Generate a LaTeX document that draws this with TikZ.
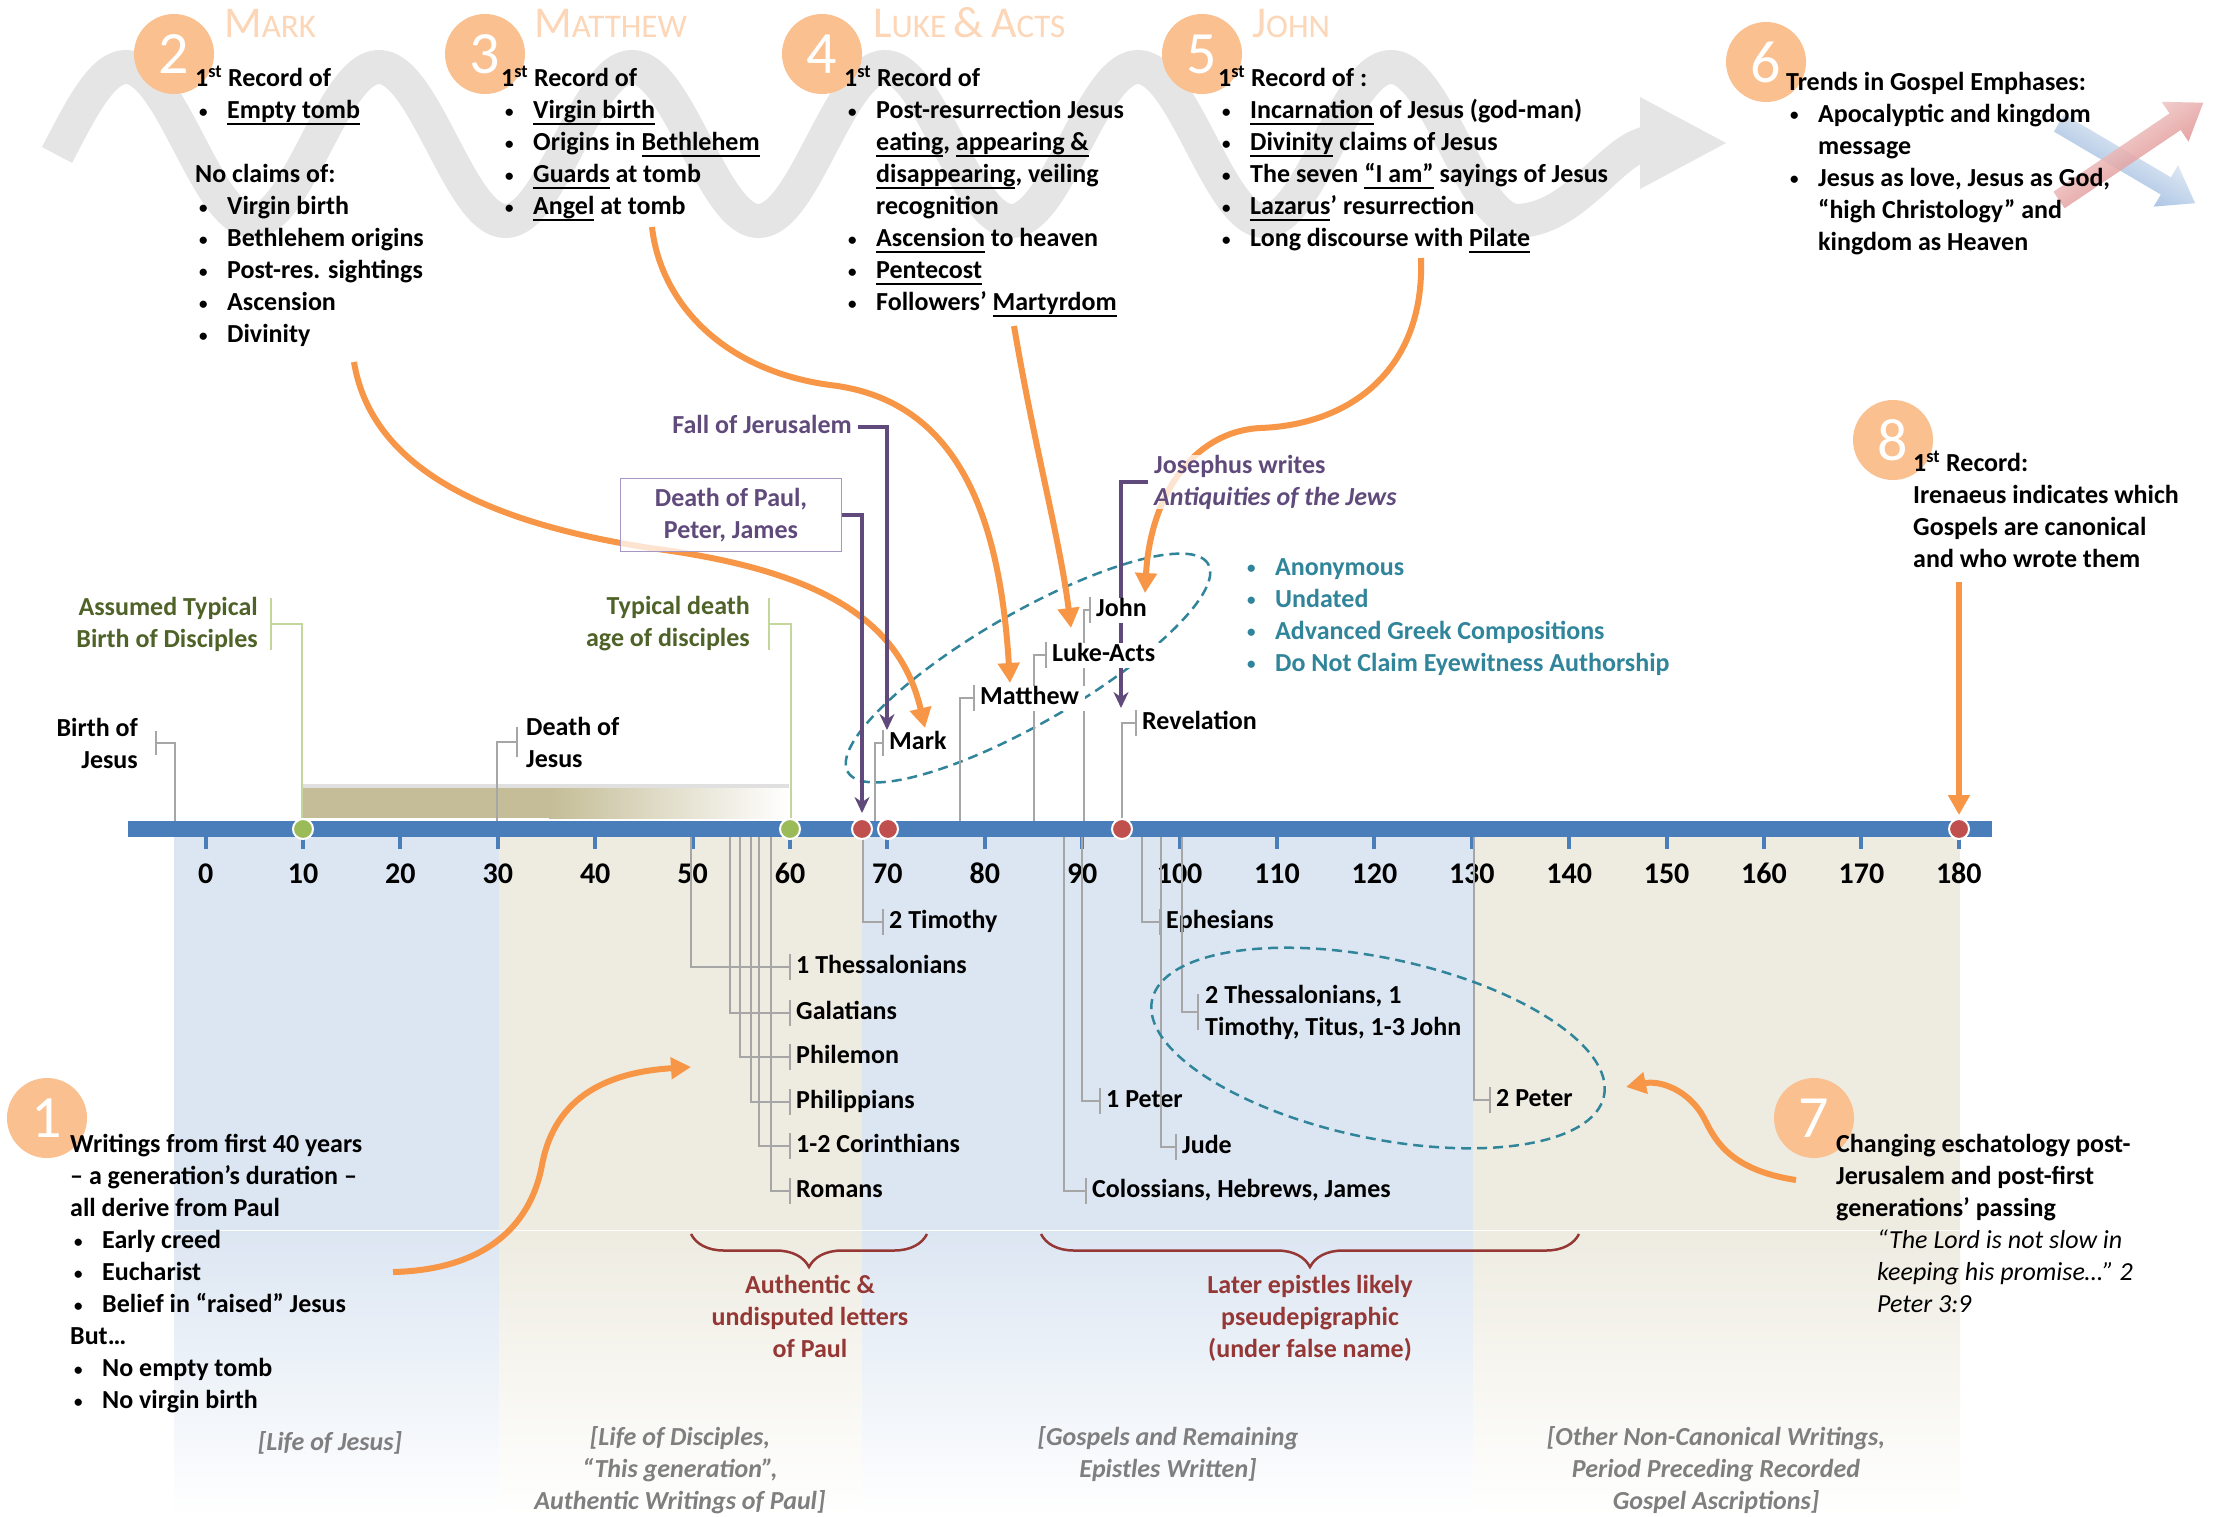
\documentclass[tikz,border=0pt]{standalone}
\usepackage{fontspec}
\setmainfont{Carlito}
\usetikzlibrary{arrows.meta, calc, decorations.pathreplacing}
\definecolor{barblue}{RGB}{74,126,187}
\definecolor{badgeorange}{RGB}{250,192,143}
\definecolor{titleorange}{RGB}{252,214,182}
\definecolor{wavegray}{RGB}{229,229,229}
\definecolor{arroworange}{RGB}{247,150,70}
\definecolor{purpletxt}{RGB}{96,74,123}
\definecolor{boxpurple}{RGB}{166,150,196}
\definecolor{tealtxt}{RGB}{49,133,155}
\definecolor{bracered}{RGB}{149,55,53}
\definecolor{olivetxt}{RGB}{79,98,40}
\definecolor{lightgreen}{RGB}{195,214,155}
\definecolor{greendot}{RGB}{155,187,89}
\definecolor{reddot}{RGB}{192,80,77}
\definecolor{leadgray}{RGB}{166,166,166}
\definecolor{bandblue}{RGB}{220,230,242}
\definecolor{bandbeige}{RGB}{238,236,225}
\definecolor{tanbar}{RGB}{196,189,151}
\definecolor{capgray}{RGB}{127,127,127}
\definecolor{trendred}{RGB}{214,110,108}
\definecolor{trendblue}{RGB}{130,168,214}
\newcommand\bodyf{\fontsize{26}{32}\selectfont\bfseries}
\newcommand\itm{\makebox[32pt][l]{\hspace{4pt}\raisebox{1.5pt}{\fontsize{17}{17}\selectfont\textbullet}}}
\newcommand\itmc{\hspace*{32pt}}
\newcommand\undl[1]{\setbox0\hbox{#1}\rlap{\rule[-6pt]{\wd0}{1.8pt}}\box0\relax}
\newcommand\bigsc[2]{{\fontsize{44}{44}\selectfont #1}{\fontsize{33}{33}\selectfont #2}}
\newcommand\topstrut{\rule{0pt}{24pt}}
\begin{document}
\begin{tikzpicture}[x=1pt, y=1pt,
        badge/.style={circle, fill=badgeorange, minimum size=80pt, inner sep=0pt, text=white, font=\fontsize{60}{60}\selectfont},
        gtitle/.style={anchor=base west, inner sep=0pt, text=titleorange},
        blk/.style={anchor=north west, yshift=19pt, align=left, inner sep=0pt, font=\bodyf, execute at begin node=\topstrut},
        evl/.style={font=\bodyf, inner xsep=6pt, inner ysep=0pt, text height=19pt, text depth=6pt},
        evl2/.style={font=\bodyf, inner xsep=8pt, inner ysep=0pt},
        lead/.style={draw=leadgray, line width=1.5pt},
        glead/.style={draw=lightgreen, line width=2.5pt},
        orarrow/.style={draw=arroworange, line width=6pt, -{Triangle[length=20pt, width=21pt]}},
        parrow/.style={draw=purpletxt, line width=3.5pt, -{Stealth[length=16pt, width=15pt]}},
        dashring/.style={draw=tealtxt, line width=2.5pt, dash pattern=on 10pt off 6pt},
        pbrace/.style={draw=bracered, line width=2.5pt, decorate, decoration={brace, mirror, amplitude=33pt}},
        bracetxt/.style={anchor=north, yshift=20pt, align=center, inner sep=0pt, font=\bodyf, text=bracered, execute at begin node=\topstrut},
        period/.style={anchor=north, yshift=24pt, align=center, inner sep=0pt, font=\bodyf\itshape, text=capgray, execute at begin node=\topstrut},
        axnum/.style={anchor=base, inner sep=0pt, font=\fontsize{30}{30}\selectfont\bfseries}
    ]
    \useasboundingbox (0,0) rectangle (2223,-1516);
    \fill[white] (0,0) rectangle (2223,-1516);

    % period bands under the axis
    \foreach \xa/\xb/\bc in {174/499/bandblue, 499/862/bandbeige, 862/1473/bandblue, 1473/1960/bandbeige}{
        \fill[\bc] (\xa,-837) rectangle (\xb,-1230);
        \shade[top color=\bc, bottom color=white] (\xa,-1231) rectangle (\xb,-1516);
    }

    % grey wave behind the gospel notes
    \draw[wavegray, line width=34pt] plot[domain=57:1516, samples=240, smooth] (\x,{-144+77*cos((\x-126)/253*360)});
    \draw[wavegray, line width=34pt] (1515,-221) .. controls (1575,-221) and (1610,-150) .. (1648,-143);
    \fill[wavegray] (1640,-97) -- (1726,-143) -- (1640,-189) -- cycle;

    % trend arrows
    \coordinate (bs) at (2059,-123);
    \shade[left color=white, right color=trendblue, shading angle=-30, opacity=0.9] ($(bs)+(59.5:10)$) -- ++(-30.5:124) -- ++(59.5:14) -- ($(bs)+(-30.5:158)$) -- ($(bs)+(-30.5:124)+(-120.5:24)$) -- ++(59.5:14) -- ($(bs)+(-120.5:10)$) -- cycle;
    \coordinate (rs) at (2059,-200);
    \shade[left color=trendred!15, right color=trendred, shading angle=34, opacity=0.85] ($(rs)+(124:10)$) -- ++(34:140) -- ++(124:14) -- ($(rs)+(34:174)$) -- ($(rs)+(34:140)+(-56:24)$) -- ++(124:14) -- ($(rs)+(-56:10)$) -- cycle;

    % numbered badges and titles
    \node[badge] (badge1) at (47,-1118) {1};
    \node[badge] (badge2) at (174,-54) {2};
    \node[badge] (badge3) at (485,-54) {3};
    \node[badge] (badge4) at (822,-54) {4};
    \node[badge] (badge5) at (1202,-54) {5};
    \node[badge] (badge6) at (1766,-62) {6};
    \node[badge] (badge7) at (1814,-1118) {7};
    \node[badge] (badge8) at (1893,-440) {8};
    \node[gtitle] (tmark) at (224,-37) {\bigsc{M}{ARK}};
    \node[gtitle] (tmatt) at (534,-37) {\bigsc{M}{ATTHEW}};
    \node[gtitle] (tluke) at (873,-37) {\bigsc{L}{UKE }\bigsc{\&}{ }\bigsc{A}{CTS}};
    \node[gtitle] (tjohn) at (1252,-37) {\bigsc{J}{OHN}};

    \node[blk] (mark) at (195,-85) {1\textsuperscript{st} Record of\\
        \itm \undl{Empty tomb}\\[32pt]
        No claims of:\\
        \itm Virgin birth\\
        \itm Bethlehem origins\\
        \itm Post-res. sightings\\
        \itm Ascension\\
        \itm Divinity};
    \node[blk] (matt) at (501,-85) {1\textsuperscript{st} Record of\\
        \itm \undl{Virgin birth}\\
        \itm Origins in \undl{Bethlehem}\\
        \itm \undl{Guards} at tomb\\
        \itm \undl{Angel} at tomb};
    \node[blk] (luke) at (844,-85) {1\textsuperscript{st} Record of\\
        \itm Post-resurrection Jesus\\
        \itmc \undl{eating}, \undl{appearing \&}\\
        \itmc \undl{disappearing}, veiling\\
        \itmc recognition\\
        \itm \undl{Ascension} to heaven\\
        \itm \undl{Pentecost}\\
        \itm Followers’ \undl{Martyrdom}};
    \node[blk] (john) at (1218,-85) {1\textsuperscript{st} Record of :\\
        \itm \undl{Incarnation} of Jesus (god-man)\\
        \itm \undl{Divinity} claims of Jesus\\
        \itm The seven \undl{“I am”} sayings of Jesus\\
        \itm \undl{Lazarus}’ resurrection\\
        \itm Long discourse with \undl{Pilate}};
    \node[blk] (trend) at (1786,-91) {Trends in Gospel Emphases:\\
        \itm Apocalyptic and kingdom\\
        \itmc message\\
        \itm Jesus as love, Jesus as God,\\
        \itmc “high Christology” and\\
        \itmc kingdom as Heaven};
    \node[blk] (iren) at (1913,-470) {1\textsuperscript{st} Record:\\Irenaeus indicates which\\Gospels are canonical\\and who wrote them};
    \node[blk] (early) at (70,-1153) {Writings from first 40 years\\
        – a generation’s duration –\\
        all derive from Paul\\
        \itm Early creed\\
        \itm Eucharist\\
        \itm Belief in “raised” Jesus\\
        But…\\
        \itm No empty tomb\\
        \itm No virgin birth};
    \node[blk] (escha) at (1836,-1153) {Changing eschatology post-\\
        Jerusalem and post-first\\
        generations’ passing\\
        \hspace*{41pt}{\mdseries\itshape “The Lord is not slow in}\\
        \hspace*{41pt}{\mdseries\itshape keeping his promise…” 2}\\
        \hspace*{41pt}{\mdseries\itshape Peter 3:9}};
    \node[blk, text=tealtxt] (traits) at (1243,-577) {\itm Anonymous\\
        \itm Undated\\
        \itm Advanced Greek Compositions\\
        \itm Do Not Claim Eyewitness Authorship};

    % disciples span above the axis
    \fill[black!12] (303,-784) rectangle (789,-788);
    \fill[tanbar] (303,-788) rectangle (549,-818);
    \shade[left color=tanbar, right color=white] (549,-788) rectangle (789,-818);

    % axis
    \fill[barblue] (128,-821) rectangle (1992,-837);
    \foreach \yr in {0,10,...,180}{
        \pgfmathsetmacro\tx{205.6+9.74*\yr}
        \fill[barblue] (\tx-2,-837) rectangle (\tx+2,-849);
        \node[axnum] (yr\yr) at (\tx,-883) {\yr};
    }

    % life markers
    \node[evl2, align=right, anchor=east, inner xsep=18pt] (birth) at (156,-743) {Birth of\\Jesus};
    \coordinate (birthfoot) at (175,-821);
    \draw[lead] ([yshift=12pt]birth.east) -- ([yshift=-12pt]birth.east);
    \draw[lead] (birth.east) -| (birthfoot);
    \node[evl2, align=left, anchor=west, inner xsep=9pt] (death) at (517,-742) {Death of\\Jesus};
    \coordinate (deathfoot) at (497,-821);
    \draw[lead] ([yshift=15pt]death.west) -- ([yshift=-15pt]death.west);
    \draw[lead] (death.west) -| (deathfoot);
    \node[evl2, align=right, anchor=east, inner xsep=13pt, text=olivetxt] (assumed) at (271,-624) {Assumed Typical\\Birth of Disciples};
    \coordinate (assumedfoot) at (302,-821);
    \draw[glead] ([yshift=26pt]assumed.east) -- ([yshift=-26pt]assumed.east);
    \draw[glead] (assumed.east) -| (assumedfoot);
    \node[evl2, align=right, anchor=east, inner xsep=19pt, text=olivetxt] (typical) at (769,-624) {Typical death\\age of disciples};
    \coordinate (typicalfoot) at (791,-821);
    \draw[glead] ([yshift=26pt]typical.east) -- ([yshift=-26pt]typical.east);
    \draw[glead] (typical.east) -| (typicalfoot);

    % epistles below the axis
    \foreach \nm/\tx/\ty/\fx/\lbl in {tim/883/922/863/2 Timothy, thes/790/967/691/1 Thessalonians, gal/790/1013/730/Galatians, phm/790/1057/740/Philemon, phil/790/1102/751/Philippians, cor/790/1146/759/1-2 Corinthians, rom/790/1191/771/Romans, eph/1160/922/1142/Ephesians, pet/1100/1101/1082/1 Peter, jude/1176/1147/1161/Jude, col/1086/1191/1064/{Colossians, Hebrews, James}, petb/1490/1100/1474/2 Peter}{
        \node[evl, anchor=west] (e\nm) at (\tx,-\ty) {\lbl};
        \coordinate (f\nm) at (\fx,-837);
        \draw[lead] ([yshift=13pt]e\nm.west) -- ([yshift=-13pt]e\nm.west);
        \draw[lead] (e\nm.west) -| (f\nm);
    }
    \node[evl2, align=left, anchor=west, inner xsep=7pt] (thesb) at (1198,-1012) {2 Thessalonians, 1\\Timothy, Titus, 1-3 John};
    \coordinate (thesbfoot) at (1182,-837);
    \draw[lead] ([yshift=18pt]thesb.west) -- ([yshift=-18pt]thesb.west);
    \draw[lead] (thesb.west) -| (thesbfoot);

    % groupings
    \draw[dashring, rotate around={30:(1028,-668)}] (1028,-668) ellipse [x radius=208, y radius=55];
    \draw[dashring, rotate around={-12:(1378,-1048)}] (1378,-1048) ellipse [x radius=231, y radius=90];
    \draw[pbrace] (691,-1234) -- (927,-1234);
    \draw[pbrace] (1041,-1234) -- (1579,-1234);
    \node[bracetxt] (authtxt) at (810,-1295) {Authentic \&\\undisputed letters\\of Paul};
    \node[bracetxt] (latetxt) at (1310,-1295) {Later epistles likely\\pseudepigraphic\\(under false name)};
    \node[period] (capjesus) at (330,-1450) {[Life of Jesus]};
    \node[period] (capdisc) at (680,-1450) {[Life of Disciples,\\“This generation”,\\Authentic Writings of Paul]};
    \node[period] (capgosp) at (1168,-1450) {[Gospels and Remaining\\Epistles Written]};
    \node[period] (capother) at (1716,-1450) {[Other Non-Canonical Writings,\\Period Preceding Recorded\\Gospel Ascriptions]};

    % orange pointers
    \coordinate (omark1) at (354,-362);
    \coordinate (omark2) at (925,-728);
    \draw[orarrow] (omark1) .. controls (370,-460) and (470,-520) .. (650,-548) .. controls (820,-570) and (900,-620) .. (omark2);
    \coordinate (omatt1) at (652,-227);
    \coordinate (omatt2) at (1010,-683);
    \draw[orarrow] (omatt1) .. controls (660,-300) and (720,-370) .. (830,-385) .. controls (960,-400) and (1000,-520) .. (omatt2);
    \coordinate (oluke1) at (1014,-326);
    \coordinate (oluke2) at (1071,-628);
    \draw[orarrow] (oluke1) .. controls (1035,-450) and (1060,-540) .. (oluke2);
    \coordinate (ojohn1) at (1421,-258);
    \coordinate (ojohn2) at (1145,-593);
    \draw[orarrow] (ojohn1) .. controls (1425,-370) and (1350,-425) .. (1260,-428) .. controls (1190,-432) and (1150,-500) .. (ojohn2);
    \coordinate (oearly1) at (393,-1272);
    \coordinate (oearly2) at (691,-1067);
    \draw[orarrow] (oearly1) .. controls (480,-1270) and (530,-1230) .. (542,-1165) .. controls (555,-1095) and (610,-1072) .. (oearly2);
    \coordinate (oescha1) at (1796,-1180);
    \coordinate (oescha2) at (1626,-1087);
    \draw[orarrow] (oescha1) .. controls (1730,-1170) and (1715,-1140) .. (1705,-1120) .. controls (1690,-1090) and (1660,-1080) .. (oescha2);
    \coordinate (oiren1) at (1959,-582);
    \coordinate (oiren2) at (1959,-815);
    \draw[orarrow] (oiren1) -- (oiren2);

    % historical events
    \node[evl, anchor=east, text=purpletxt] (fall) at (858,-427) {Fall of Jerusalem};
    \coordinate (fallend) at (887,-730);
    \draw[parrow] (fall.east) -| (fallend);
    \node[evl2, draw=boxpurple, line width=1.5pt, fill=white, fill opacity=0.75, text opacity=1, text=purpletxt, align=center, minimum width=221pt, minimum height=73pt] (paul) at (731,-515) {Death of Paul,\\Peter, James};
    \coordinate (paulend) at (862,-813);
    \draw[parrow] (paul.east) -| (paulend);
    \node[evl2, anchor=west, inner xsep=6pt, fill=white, fill opacity=0.75, text opacity=1, text=purpletxt, align=left] (jos) at (1148,-482) {Josephus writes\\\textit{Antiquities of the Jews}};
    \coordinate (josend) at (1121,-708);
    \draw[parrow] (jos.west) -| (josend);

    % gospels above the axis
    \foreach \nm/\tx/\ty/\fx/\lbl in {john/1090/610/1084/John, luke/1046/655/1034/Luke-Acts, matt/974/698/960/Matthew, mark/883/743/875/Mark, rev/1136/723/1122/Revelation}{
        \node[evl, anchor=west, fill=white] (g\nm) at (\tx,-\ty) {\lbl};
        \coordinate (f\nm) at (\fx,-821);
        \draw[lead] ([yshift=13pt]g\nm.west) -- ([yshift=-13pt]g\nm.west);
        \draw[lead] (g\nm.west) -| (f\nm);
    }

    % dots on the axis
    \foreach \dx in {303,790}
        \fill[greendot, draw=white, line width=2pt] (\dx,-829) circle (10);
    \foreach \dx in {862,888,1122,1959}
        \fill[reddot, draw=white, line width=2pt] (\dx,-829) circle (10);
\end{tikzpicture}
\end{document}
